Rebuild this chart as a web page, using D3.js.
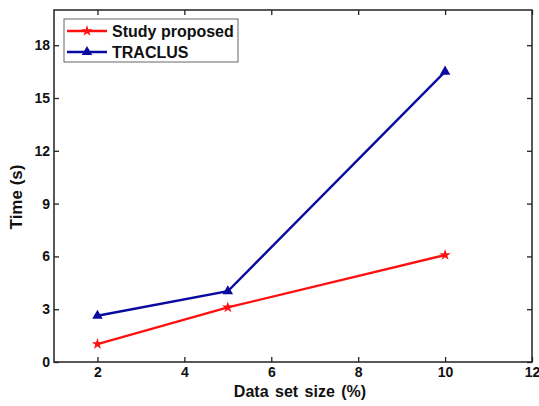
<!DOCTYPE html>
<html>
<head>
<meta charset="utf-8">
<script src="https://cdn.jsdelivr.net/npm/d3@7"></script>
<style>
  body { margin: 0; background: #fff; }
  text { font-family: "Liberation Sans", Arial, sans-serif; font-weight: bold; fill: #111; }
</style>
</head>
<body>
<div id="chart"></div>
<script>
const sizes = [2, 5, 10];
const studyProposed = [1.02, 3.1, 6.08];
const traclus = [2.63, 4.02, 16.5];
const xTicks = [2, 4, 6, 8, 10, 12];
const yTicks = [0, 3, 6, 9, 12, 15, 18];

const width = 539, height = 406;
const margin = { top: 10, right: 7, bottom: 44, left: 54 };
const iw = width - margin.left - margin.right;
const ih = height - margin.top - margin.bottom;

const svg = d3.select("#chart").append("svg")
  .attr("width", width).attr("height", height);
const g = svg.append("g").attr("transform", `translate(${margin.left},${margin.top})`);

const x = d3.scaleLinear().domain([1, 12]).range([0, iw]);
const y = d3.scaleLinear().domain([0, 20]).range([ih, 0]);

// ticks pointing inward on all four sides
const tickLen = 5;
const axisStyle = sel => {
  sel.select(".domain").remove();
  sel.selectAll(".tick line").attr("stroke", "#222").attr("stroke-width", 1.3);
};
const labelStyle = sel => sel.selectAll("text")
  .attr("font-size", 14).attr("fill", "#111")
  .style("font-family", "Liberation Sans, Arial").style("font-weight", "bold");

g.append("g").attr("transform", `translate(0,${ih})`)
  .call(d3.axisBottom(x).tickValues(xTicks).tickSizeInner(-tickLen).tickPadding(5))
  .call(axisStyle).call(labelStyle);
g.append("g")
  .call(d3.axisTop(x).tickValues(xTicks).tickSizeInner(-tickLen).tickFormat(""))
  .call(axisStyle);
g.append("g")
  .call(d3.axisLeft(y).tickValues(yTicks).tickSizeInner(-tickLen).tickPadding(4))
  .call(axisStyle).call(labelStyle);
g.append("g").attr("transform", `translate(${iw},0)`)
  .call(d3.axisRight(y).tickValues(yTicks).tickSizeInner(-tickLen).tickFormat(""))
  .call(axisStyle);

g.append("rect").attr("width", iw).attr("height", ih)
  .attr("fill", "none").attr("stroke", "#222").attr("stroke-width", 1.5);

const series = [
  { name: "Study proposed", values: studyProposed, color: "#ff1010", symbol: d3.symbolStar, size: 40 },
  { name: "TRACLUS", values: traclus, color: "#0a0aa0", symbol: d3.symbolTriangle, size: 48 }
];

const line = d3.line().x(d => x(d[0])).y(d => y(d[1]));
series.forEach(s => {
  const pts = sizes.map((v, i) => [v, s.values[i]]);
  g.append("path").datum(pts).attr("d", line)
    .attr("fill", "none").attr("stroke", s.color).attr("stroke-width", 2.4);
  g.selectAll(null).data(pts).enter().append("path")
    .attr("d", d3.symbol().type(s.symbol).size(s.size))
    .attr("transform", d => `translate(${x(d[0])},${y(d[1])})`)
    .attr("fill", s.color);
});

// legend
const lg = svg.append("g").attr("transform", "translate(64,19)");
lg.append("rect").attr("width", 174).attr("height", 43)
  .attr("fill", "#fff").attr("stroke", "#666").attr("stroke-width", 1);
series.forEach((s, i) => {
  const ly = 12 + i * 21;
  lg.append("line").attr("x1", 3).attr("x2", 43).attr("y1", ly).attr("y2", ly)
    .attr("stroke", s.color).attr("stroke-width", 2.4);
  lg.append("path").attr("d", d3.symbol().type(s.symbol).size(s.size))
    .attr("transform", `translate(23,${ly})`).attr("fill", s.color);
  lg.append("text").attr("x", 48).attr("y", ly + 6).attr("font-size", 16).text(s.name);
});

svg.append("text")
  .attr("transform", `translate(22,197) rotate(-90)`)
  .attr("text-anchor", "middle").attr("font-size", 17).text("Time (s)");
svg.append("text")
  .attr("x", 300).attr("y", 397)
  .attr("text-anchor", "middle").attr("font-size", 16).attr("word-spacing", 2).text("Data set size (%)");
</script>
</body>
</html>
